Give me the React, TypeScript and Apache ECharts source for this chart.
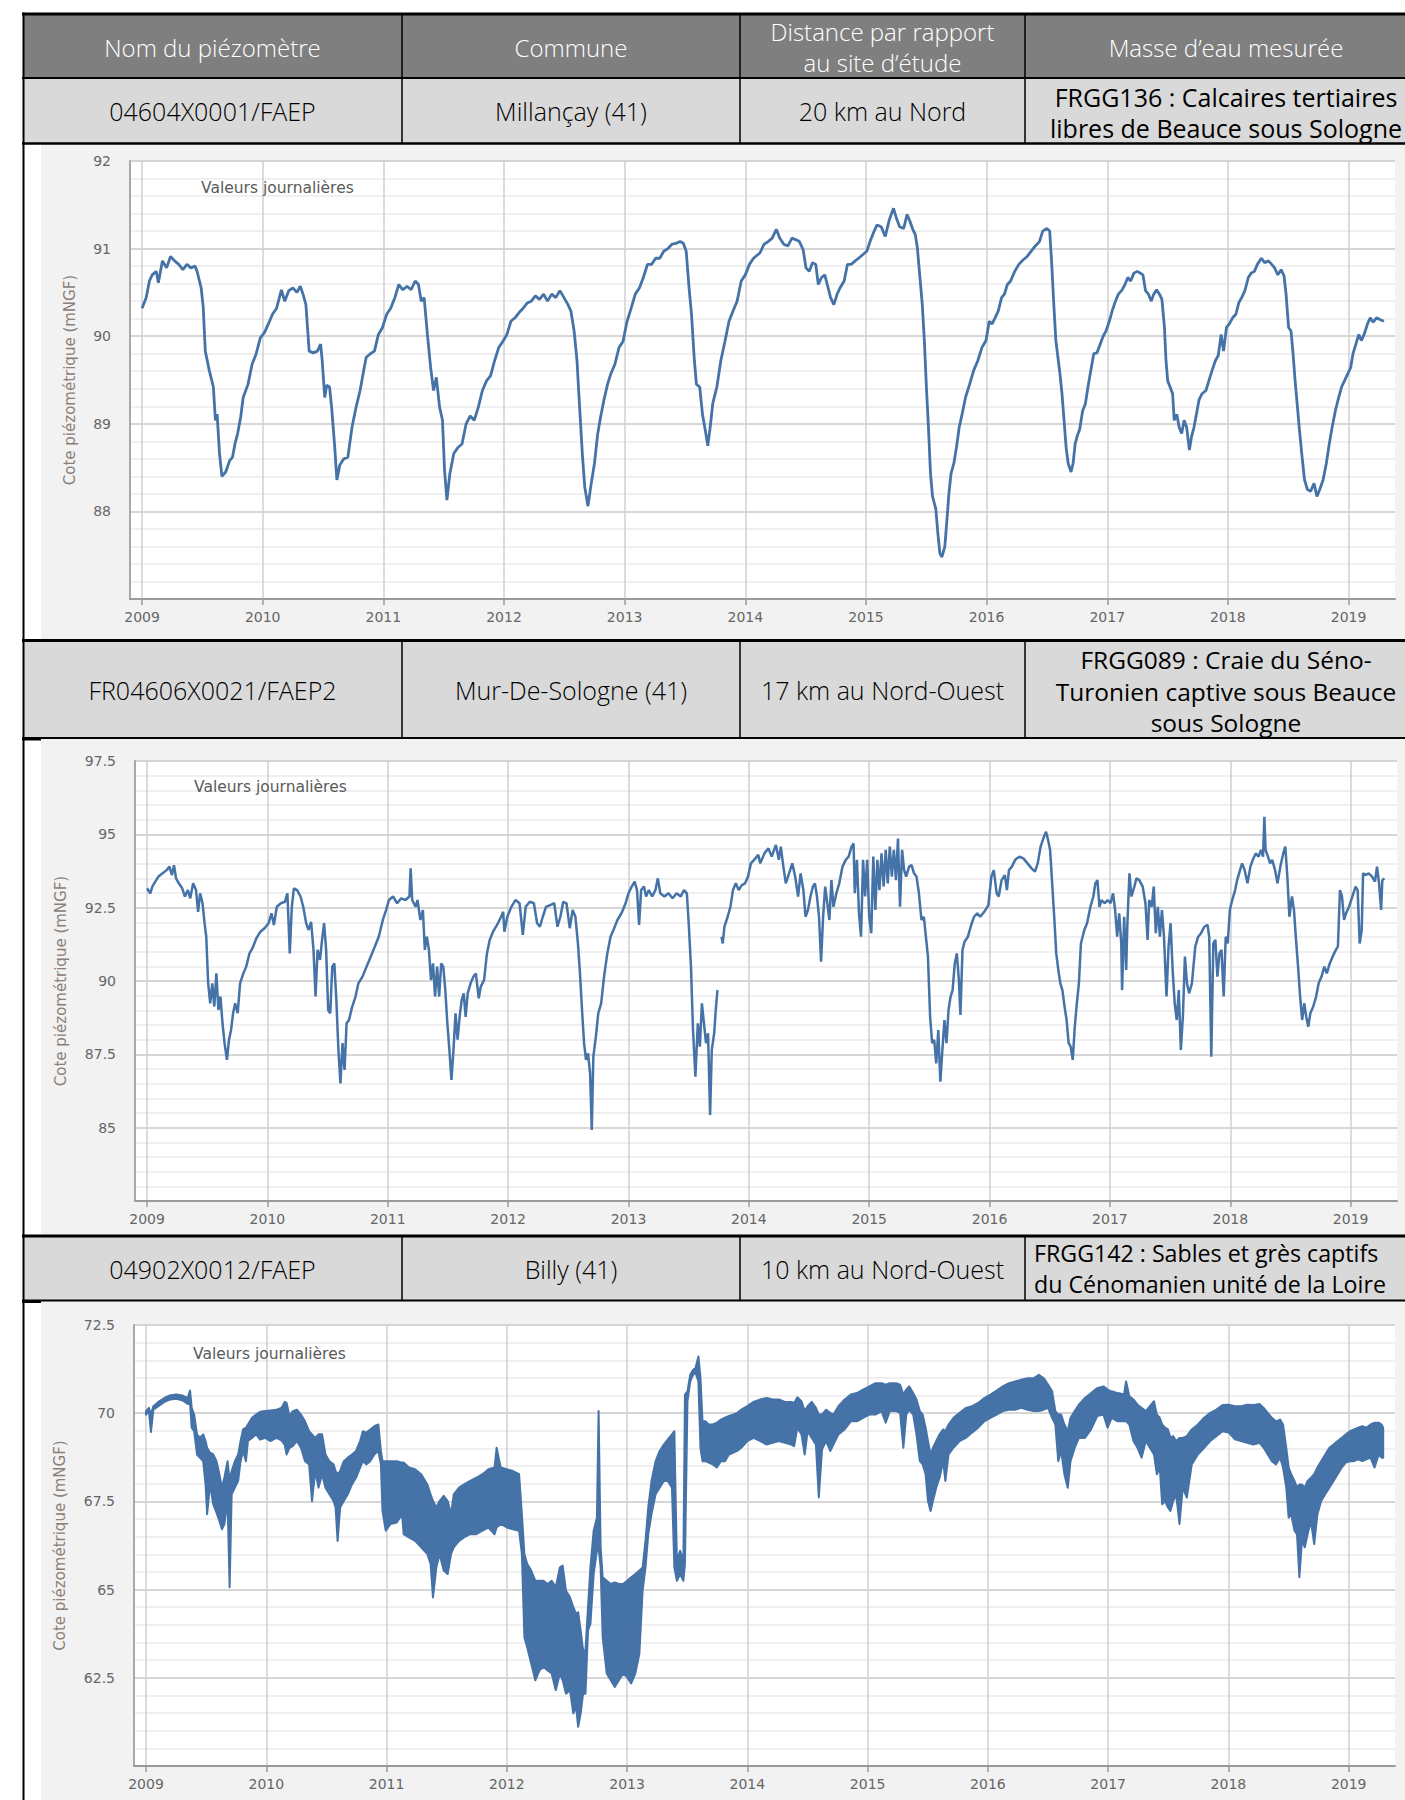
import React, { useEffect, useRef } from 'react';
import * as echarts from 'echarts';

// ---------- data ----------
const YEAR_TICKS = [2009, 2010, 2011, 2012, 2013, 2014, 2015, 2016, 2017, 2018, 2019];
const X_MIN = 2008.9;
const X_MAX = 2019.385;

const tableHeader = ['Nom du piézomètre', 'Commune', 'Distance par rapport|au site d’étude', 'Masse d’eau mesurée'];
const stationNames = ['04604X0001/FAEP', 'FR04606X0021/FAEP2', '04902X0012/FAEP'];
const stationCommunes = ['Millançay (41)', 'Mur-De-Sologne (41)', 'Billy (41)'];
const stationDistances = ['20 km au Nord', '17 km au Nord-Ouest', '10 km au Nord-Ouest'];
const stationAquifers = [
  ['FRGG136 : Calcaires tertiaires', 'libres de Beauce sous Sologne'],
  ['FRGG089 : Craie du Séno-', 'Turonien captive sous Beauce', 'sous Sologne'],
  ['FRGG142 : Sables et grès captifs', 'du Cénomanien unité de la Loire'],
];

// Millançay – [decimal year, level mNGF]
const millancay: [number, number][] = [
  [2009.000,90.32],[2009.034,90.44],[2009.061,90.63],[2009.084,90.70],[2009.118,90.74],[2009.135,90.61],[2009.169,90.86],[2009.203,90.78],[2009.236,90.91],[2009.270,90.86],[2009.304,90.82],[2009.338,90.76],[2009.372,90.82],[2009.405,90.78],[2009.439,90.80],[2009.456,90.74],[2009.490,90.55],[2009.507,90.33],[2009.524,89.83],[2009.557,89.61],[2009.591,89.42],[2009.608,89.04],[2009.622,89.11],[2009.642,88.66],[2009.662,88.40],[2009.693,88.45],[2009.726,88.58],[2009.750,88.62],[2009.770,88.77],[2009.794,88.90],[2009.818,89.08],[2009.838,89.30],[2009.878,89.45],[2009.912,89.68],[2009.946,89.80],[2009.980,89.98],
  [2010.014,90.04],[2010.047,90.14],[2010.081,90.25],[2010.115,90.32],[2010.155,90.53],[2010.182,90.40],[2010.216,90.52],[2010.250,90.55],[2010.284,90.50],[2010.311,90.57],[2010.334,90.48],[2010.358,90.36],[2010.385,89.83],[2010.419,89.81],[2010.453,89.83],[2010.480,89.91],[2010.493,89.72],[2010.514,89.30],[2010.530,89.44],[2010.554,89.42],[2010.571,89.19],[2010.595,88.77],[2010.615,88.36],[2010.639,88.53],[2010.672,88.60],[2010.706,88.62],[2010.740,88.96],[2010.774,89.19],[2010.807,89.38],[2010.841,89.64],[2010.858,89.76],[2010.892,89.80],[2010.926,89.83],[2010.959,90.02],[2010.993,90.10],
  [2011.027,90.25],[2011.061,90.32],[2011.095,90.44],[2011.128,90.59],[2011.162,90.53],[2011.196,90.57],[2011.230,90.53],[2011.264,90.63],[2011.291,90.59],[2011.314,90.40],[2011.338,90.44],[2011.365,90.02],[2011.392,89.64],[2011.416,89.38],[2011.439,89.53],[2011.466,89.19],[2011.490,89.04],[2011.507,88.47],[2011.527,88.13],[2011.551,88.43],[2011.584,88.66],[2011.618,88.73],[2011.652,88.77],[2011.686,89.00],[2011.720,89.09],[2011.753,89.04],[2011.787,89.19],[2011.821,89.38],[2011.855,89.49],[2011.889,89.55],[2011.922,89.72],[2011.956,89.87],[2011.990,89.94],
  [2012.024,90.02],[2012.057,90.17],[2012.091,90.21],[2012.125,90.27],[2012.159,90.32],[2012.193,90.38],[2012.226,90.40],[2012.260,90.46],[2012.294,90.42],[2012.328,90.48],[2012.361,90.40],[2012.395,90.48],[2012.429,90.44],[2012.463,90.52],[2012.497,90.44],[2012.530,90.36],[2012.554,90.29],[2012.581,90.06],[2012.605,89.72],[2012.625,89.23],[2012.649,88.66],[2012.669,88.28],[2012.696,88.06],[2012.723,88.32],[2012.750,88.55],[2012.777,88.89],[2012.801,89.08],[2012.828,89.27],[2012.858,89.45],[2012.885,89.57],[2012.919,89.68],[2012.953,89.87],[2012.986,89.94],
  [2013.020,90.17],[2013.054,90.32],[2013.088,90.48],[2013.122,90.55],[2013.155,90.67],[2013.189,90.82],[2013.223,90.82],[2013.257,90.89],[2013.291,90.89],[2013.324,90.97],[2013.358,91.00],[2013.392,91.05],[2013.426,91.06],[2013.459,91.08],[2013.486,91.06],[2013.510,90.97],[2013.534,90.55],[2013.554,90.25],[2013.578,89.72],[2013.595,89.45],[2013.622,89.42],[2013.645,89.11],[2013.669,88.92],[2013.689,88.75],[2013.709,88.96],[2013.730,89.23],[2013.764,89.42],[2013.797,89.72],[2013.831,89.94],[2013.865,90.17],[2013.899,90.29],[2013.932,90.40],[2013.966,90.63],
  [2014.000,90.70],[2014.034,90.82],[2014.068,90.89],[2014.121,90.95],[2014.155,91.05],[2014.189,91.08],[2014.223,91.12],[2014.257,91.22],[2014.285,91.12],[2014.319,91.05],[2014.353,91.03],[2014.387,91.12],[2014.421,91.10],[2014.448,91.08],[2014.479,90.99],[2014.503,90.78],[2014.530,90.74],[2014.557,90.84],[2014.584,90.82],[2014.605,90.59],[2014.632,90.67],[2014.659,90.70],[2014.683,90.57],[2014.707,90.44],[2014.734,90.36],[2014.761,90.48],[2014.785,90.55],[2014.819,90.63],[2014.847,90.82],[2014.877,90.82],[2014.911,90.86],[2014.939,90.89],[2014.973,90.93],
  [2015.007,90.97],[2015.034,91.08],[2015.068,91.20],[2015.092,91.27],[2015.126,91.25],[2015.160,91.14],[2015.194,91.33],[2015.228,91.46],[2015.252,91.35],[2015.279,91.25],[2015.313,91.23],[2015.341,91.39],[2015.365,91.31],[2015.388,91.22],[2015.409,91.16],[2015.426,91.01],[2015.443,90.74],[2015.467,90.36],[2015.484,89.95],[2015.501,89.42],[2015.518,88.96],[2015.535,88.43],[2015.552,88.17],[2015.579,88.03],[2015.596,87.75],[2015.613,87.52],[2015.630,87.48],[2015.654,87.60],[2015.671,87.90],[2015.688,88.21],[2015.705,88.43],[2015.729,88.55],[2015.750,88.73],[2015.773,88.96],[2015.797,89.11],[2015.825,89.30],[2015.859,89.45],[2015.893,89.61],[2015.927,89.72],[2015.961,89.87],[2015.995,89.95],
  [2016.022,90.17],[2016.046,90.14],[2016.070,90.21],[2016.097,90.29],[2016.124,90.44],[2016.148,90.48],[2016.172,90.59],[2016.199,90.63],[2016.233,90.74],[2016.267,90.82],[2016.302,90.87],[2016.336,90.91],[2016.370,90.97],[2016.404,91.03],[2016.438,91.08],[2016.465,91.20],[2016.499,91.23],[2016.523,91.20],[2016.540,90.82],[2016.557,90.36],[2016.574,89.95],[2016.591,89.76],[2016.608,89.57],[2016.625,89.34],[2016.642,89.04],[2016.659,88.73],[2016.676,88.55],[2016.700,88.45],[2016.717,88.55],[2016.734,88.77],[2016.751,88.86],[2016.772,88.94],[2016.796,89.15],[2016.819,89.23],[2016.840,89.42],[2016.864,89.61],[2016.888,89.80],[2016.915,89.81],[2016.942,89.91],[2016.966,90.00],[2016.990,90.06],
  [2017.017,90.17],[2017.041,90.29],[2017.068,90.40],[2017.092,90.48],[2017.119,90.52],[2017.147,90.59],[2017.170,90.67],[2017.194,90.63],[2017.221,90.72],[2017.249,90.74],[2017.273,90.72],[2017.296,90.70],[2017.317,90.52],[2017.341,90.48],[2017.365,90.40],[2017.385,90.48],[2017.409,90.53],[2017.433,90.48],[2017.453,90.42],[2017.474,90.10],[2017.487,89.72],[2017.501,89.49],[2017.521,89.42],[2017.542,89.34],[2017.555,89.04],[2017.576,89.11],[2017.596,88.96],[2017.617,88.89],[2017.637,89.04],[2017.658,88.96],[2017.681,88.70],[2017.698,88.85],[2017.719,88.96],[2017.739,89.11],[2017.760,89.27],[2017.784,89.34],[2017.818,89.38],[2017.842,89.49],[2017.869,89.61],[2017.896,89.72],[2017.920,89.78],[2017.944,90.02],[2017.964,89.83],[2017.988,90.10],
  [2018.012,90.14],[2018.039,90.21],[2018.066,90.25],[2018.090,90.38],[2018.114,90.44],[2018.141,90.52],[2018.169,90.67],[2018.193,90.72],[2018.220,90.74],[2018.244,90.82],[2018.278,90.89],[2018.305,90.84],[2018.336,90.86],[2018.363,90.82],[2018.387,90.78],[2018.414,90.70],[2018.441,90.76],[2018.465,90.69],[2018.482,90.48],[2018.503,90.10],[2018.523,90.06],[2018.540,89.80],[2018.557,89.49],[2018.574,89.23],[2018.591,88.96],[2018.612,88.66],[2018.635,88.36],[2018.659,88.25],[2018.686,88.23],[2018.714,88.32],[2018.738,88.17],[2018.761,88.25],[2018.789,88.36],[2018.816,88.55],[2018.840,88.77],[2018.864,88.96],[2018.891,89.15],[2018.918,89.30],[2018.942,89.42],[2018.966,89.49],[2018.993,89.57],
  [2019.017,89.64],[2019.037,89.80],[2019.061,89.91],[2019.085,90.02],[2019.106,89.95],[2019.129,90.02],[2019.157,90.14],[2019.180,90.21],[2019.204,90.16],[2019.232,90.21],[2019.259,90.19],[2019.293,90.17],
];

// Mur-De-Sologne – [decimal year, level mNGF]; null = gap in the record
const murDeSologne: [number, number | null][] = [
  [2009.000,93.16],[2009.027,92.99],[2009.044,93.22],[2009.068,93.39],[2009.095,93.56],[2009.129,93.67],[2009.163,93.78],[2009.186,93.90],[2009.207,93.61],[2009.224,93.95],[2009.241,93.50],[2009.264,93.33],[2009.292,93.16],[2009.315,92.88],[2009.339,93.10],[2009.359,92.82],[2009.383,93.33],[2009.407,93.10],[2009.424,92.36],[2009.441,92.99],[2009.461,92.65],[2009.478,91.97],[2009.492,91.51],[2009.508,89.92],[2009.525,89.24],[2009.542,89.92],[2009.559,89.13],[2009.576,90.26],[2009.593,89.01],[2009.610,89.47],[2009.627,88.56],[2009.644,87.88],[2009.664,87.31],[2009.681,88.00],[2009.698,88.33],[2009.715,88.90],[2009.732,89.24],[2009.753,88.90],[2009.773,89.92],[2009.800,90.26],[2009.824,90.49],[2009.851,90.94],[2009.875,91.11],[2009.908,91.45],[2009.942,91.68],[2009.976,91.80],
  [2010.010,91.97],[2010.034,92.31],[2010.054,91.91],[2010.078,92.53],[2010.112,92.65],[2010.146,92.70],[2010.166,92.99],[2010.186,90.94],[2010.203,92.53],[2010.220,93.16],[2010.247,93.10],[2010.275,92.88],[2010.298,92.53],[2010.322,91.97],[2010.342,91.74],[2010.363,92.02],[2010.383,91.06],[2010.400,89.47],[2010.417,91.06],[2010.437,90.72],[2010.454,91.40],[2010.471,91.97],[2010.488,91.06],[2010.505,89.01],[2010.522,88.90],[2010.539,90.49],[2010.556,90.60],[2010.573,89.35],[2010.590,87.65],[2010.607,86.51],[2010.624,87.88],[2010.641,86.97],[2010.658,88.56],[2010.678,88.67],[2010.705,89.13],[2010.732,89.47],[2010.756,89.92],[2010.790,90.15],[2010.824,90.49],[2010.858,90.83],[2010.892,91.17],[2010.925,91.51],[2010.959,92.08],[2010.986,92.42],
  [2011.010,92.76],[2011.044,92.88],[2011.078,92.65],[2011.112,92.82],[2011.146,92.76],[2011.180,92.88],[2011.190,93.84],[2011.203,92.76],[2011.231,92.53],[2011.247,92.76],[2011.271,92.08],[2011.292,92.42],[2011.308,91.06],[2011.325,91.51],[2011.342,91.06],[2011.359,90.03],[2011.376,90.60],[2011.393,89.47],[2011.410,90.49],[2011.427,89.47],[2011.444,90.60],[2011.461,90.49],[2011.478,89.69],[2011.495,88.56],[2011.512,87.65],[2011.529,86.63],[2011.546,87.65],[2011.563,88.90],[2011.580,88.00],[2011.597,88.78],[2011.614,89.35],[2011.631,89.58],[2011.647,88.78],[2011.664,89.58],[2011.688,89.92],[2011.712,90.15],[2011.732,90.26],[2011.756,89.41],[2011.773,89.81],[2011.800,90.03],[2011.824,90.94],[2011.847,91.40],[2011.875,91.68],[2011.908,91.91],[2011.942,92.19],[2011.959,92.36],[2011.969,91.68],[2011.993,92.19],
  [2012.027,92.53],[2012.061,92.76],[2012.095,92.65],[2012.122,91.57],[2012.146,92.53],[2012.180,92.70],[2012.214,92.65],[2012.241,91.97],[2012.264,91.85],[2012.288,92.19],[2012.315,92.53],[2012.349,92.59],[2012.383,92.65],[2012.410,91.85],[2012.434,92.19],[2012.458,92.70],[2012.485,92.65],[2012.512,91.80],[2012.536,92.42],[2012.559,92.19],[2012.580,91.28],[2012.597,90.26],[2012.614,89.01],[2012.631,87.88],[2012.647,87.31],[2012.664,87.53],[2012.681,86.85],[2012.695,84.92],[2012.708,87.42],[2012.729,88.10],[2012.749,88.90],[2012.773,89.24],[2012.797,90.15],[2012.824,90.94],[2012.851,91.51],[2012.875,91.74],[2012.908,92.08],[2012.942,92.31],[2012.976,92.65],
  [2013.000,92.99],[2013.027,93.22],[2013.051,93.39],[2013.071,93.10],[2013.088,91.91],[2013.105,93.10],[2013.129,93.22],[2013.146,92.88],[2013.169,93.10],[2013.197,92.88],[2013.224,93.10],[2013.244,93.50],[2013.264,92.99],[2013.298,92.88],[2013.332,92.99],[2013.366,92.82],[2013.400,92.99],[2013.434,92.88],[2013.461,93.10],[2013.485,92.99],[2013.502,91.85],[2013.519,90.49],[2013.536,88.33],[2013.556,86.74],[2013.576,88.56],[2013.593,87.76],[2013.610,89.24],[2013.627,88.56],[2013.644,87.88],[2013.661,88.22],[2013.678,85.43],[2013.692,87.65],[2013.712,88.22],[2013.725,89.01],[2013.739,89.69],[2013.756,null],[2013.773,91.51],[2013.783,91.28],[2013.797,91.85],[2013.824,92.19],[2013.847,92.53],[2013.868,93.10],[2013.892,93.33],[2013.915,93.10],[2013.942,93.27],[2013.969,93.33],[2013.993,93.56],
  [2014.017,94.01],[2014.044,94.13],[2014.078,94.30],[2014.095,94.01],[2014.129,94.35],[2014.163,94.52],[2014.190,94.24],[2014.225,94.64],[2014.249,94.13],[2014.266,94.58],[2014.283,94.01],[2014.307,93.33],[2014.334,93.67],[2014.361,94.01],[2014.385,93.56],[2014.409,92.88],[2014.430,93.67],[2014.453,93.10],[2014.471,92.19],[2014.491,92.42],[2014.512,92.88],[2014.532,93.22],[2014.549,93.33],[2014.566,92.88],[2014.583,92.19],[2014.600,90.66],[2014.617,92.19],[2014.634,93.22],[2014.652,92.65],[2014.669,92.08],[2014.686,93.44],[2014.703,92.53],[2014.727,92.99],[2014.751,93.33],[2014.778,93.90],[2014.805,94.13],[2014.829,94.24],[2014.853,94.58],[2014.870,94.69],[2014.880,92.99],[2014.898,94.13],[2014.915,92.31],[2014.932,91.51],[2014.949,94.13],[2014.966,92.88],[2014.983,94.13],
  [2015.000,92.19],[2015.017,91.63],[2015.034,94.24],[2015.051,92.42],[2015.068,94.13],[2015.085,93.10],[2015.102,94.35],[2015.120,93.22],[2015.137,94.47],[2015.154,93.33],[2015.171,94.58],[2015.188,93.56],[2015.205,94.47],[2015.222,93.44],[2015.239,94.86],[2015.256,92.53],[2015.273,94.47],[2015.290,93.78],[2015.307,93.56],[2015.331,93.90],[2015.352,93.95],[2015.372,93.67],[2015.393,93.56],[2015.413,92.99],[2015.434,92.08],[2015.454,92.19],[2015.471,91.51],[2015.488,90.83],[2015.506,88.78],[2015.523,87.88],[2015.540,87.99],[2015.557,87.19],[2015.574,88.33],[2015.591,86.57],[2015.608,87.65],[2015.625,88.67],[2015.642,87.88],[2015.659,89.01],[2015.676,89.47],[2015.693,89.69],[2015.711,90.60],[2015.728,90.94],[2015.745,90.03],[2015.758,88.84],[2015.775,91.06],[2015.792,91.34],[2015.820,91.51],[2015.847,91.91],[2015.871,92.19],[2015.898,92.31],[2015.922,92.19],[2015.956,92.36],[2015.990,92.59],
  [2016.015,93.56],[2016.035,93.78],[2016.059,92.99],[2016.076,92.88],[2016.100,93.44],[2016.127,93.61],[2016.144,93.10],[2016.161,93.78],[2016.185,93.90],[2016.213,94.13],[2016.247,94.24],[2016.281,94.18],[2016.315,94.01],[2016.349,93.84],[2016.377,93.73],[2016.400,94.01],[2016.424,94.58],[2016.452,94.92],[2016.469,95.09],[2016.486,94.81],[2016.503,94.47],[2016.520,93.33],[2016.537,92.19],[2016.554,90.94],[2016.571,90.38],[2016.588,89.92],[2016.605,89.69],[2016.623,89.13],[2016.640,88.67],[2016.657,87.88],[2016.674,87.76],[2016.691,87.31],[2016.708,88.44],[2016.725,89.24],[2016.742,89.92],[2016.759,91.28],[2016.787,91.74],[2016.810,91.97],[2016.838,92.53],[2016.862,92.88],[2016.879,93.33],[2016.896,93.44],[2016.913,92.53],[2016.930,92.76],[2016.957,92.65],[2016.981,92.76],
  [2017.005,92.65],[2017.026,92.99],[2017.043,92.42],[2017.060,91.51],[2017.077,92.31],[2017.094,91.28],[2017.101,89.69],[2017.118,92.19],[2017.135,90.38],[2017.145,91.97],[2017.162,93.67],[2017.179,92.88],[2017.203,93.22],[2017.220,93.50],[2017.244,93.44],[2017.272,93.22],[2017.295,92.65],[2017.313,91.40],[2017.326,92.76],[2017.347,92.53],[2017.364,93.22],[2017.381,91.63],[2017.398,92.53],[2017.415,91.51],[2017.432,92.42],[2017.449,91.51],[2017.470,89.47],[2017.487,91.17],[2017.504,91.97],[2017.521,90.38],[2017.538,89.24],[2017.555,88.67],[2017.572,89.69],[2017.589,87.65],[2017.606,88.78],[2017.623,90.83],[2017.640,89.92],[2017.658,89.58],[2017.681,89.92],[2017.709,91.17],[2017.733,91.51],[2017.757,91.63],[2017.784,91.85],[2017.811,91.91],[2017.825,91.51],[2017.842,87.42],[2017.859,91.28],[2017.876,91.40],[2017.893,90.15],[2017.910,90.94],[2017.927,91.06],[2017.945,89.47],[2017.962,91.51],[2017.979,91.28],[2017.996,92.42],
  [2018.016,92.76],[2018.040,93.10],[2018.057,93.44],[2018.081,93.78],[2018.098,94.01],[2018.119,93.78],[2018.143,93.33],[2018.167,93.90],[2018.187,94.13],[2018.211,94.35],[2018.235,94.24],[2018.255,94.47],[2018.272,94.24],[2018.283,95.60],[2018.293,94.47],[2018.313,94.24],[2018.331,94.01],[2018.348,94.13],[2018.372,93.78],[2018.392,93.33],[2018.416,93.90],[2018.440,94.35],[2018.457,94.58],[2018.474,93.56],[2018.491,92.19],[2018.512,92.88],[2018.529,92.42],[2018.546,91.40],[2018.563,90.49],[2018.580,89.47],[2018.597,88.67],[2018.614,89.24],[2018.631,88.78],[2018.648,88.44],[2018.665,88.90],[2018.689,89.13],[2018.713,89.47],[2018.734,89.92],[2018.758,90.15],[2018.781,90.49],[2018.802,90.26],[2018.826,90.60],[2018.850,90.83],[2018.877,91.06],[2018.894,91.17],[2018.911,93.10],[2018.928,92.88],[2018.945,92.08],[2018.962,92.31],[2018.986,92.53],
  [2019.014,92.88],[2019.041,93.22],[2019.058,93.10],[2019.075,91.28],[2019.092,91.74],[2019.103,93.67],[2019.123,93.61],[2019.150,93.67],[2019.178,93.56],[2019.202,93.39],[2019.219,93.90],[2019.236,93.33],[2019.253,92.42],[2019.263,93.44],[2019.280,93.50],
];

// Billy – daily values oscillate strongly: [decimal year, upper edge, lower edge] of the band they draw
const billy: [number, number, number][] = [
  [2009.000,70.06,69.96],[2009.024,70.15,70.06],[2009.041,69.96,69.47],[2009.061,70.20,70.10],[2009.102,70.32,70.20],[2009.153,70.43,70.32],[2009.203,70.51,70.39],[2009.254,70.53,70.41],[2009.305,70.50,70.36],[2009.346,70.43,70.26],[2009.366,70.64,70.26],[2009.380,70.15,69.59],[2009.400,69.96,69.49],[2009.424,69.40,68.83],[2009.447,69.30,68.74],[2009.475,69.40,68.64],[2009.495,69.21,67.98],[2009.508,69.02,67.14],[2009.532,68.88,67.99],[2009.559,68.83,67.42],[2009.586,68.64,67.18],[2009.610,68.27,66.95],[2009.631,67.89,66.71],[2009.651,68.17,66.85],[2009.678,68.64,67.51],[2009.695,68.08,65.07],[2009.712,68.36,67.70],[2009.739,68.64,67.89],[2009.766,68.83,68.08],[2009.786,69.21,68.64],[2009.807,69.54,68.93],[2009.831,69.59,68.64],[2009.847,69.68,69.21],[2009.881,69.87,69.30],[2009.915,69.96,69.40],[2009.949,70.04,69.25],[2009.993,70.06,69.30],
  [2010.034,70.08,69.21],[2010.085,70.10,69.30],[2010.125,70.15,69.23],[2010.153,70.32,69.11],[2010.169,70.29,68.83],[2010.193,69.92,69.02],[2010.220,70.06,69.07],[2010.254,70.10,69.21],[2010.288,69.96,69.02],[2010.322,69.77,68.64],[2010.356,69.49,68.55],[2010.380,69.40,67.51],[2010.407,69.30,68.36],[2010.434,69.40,67.89],[2010.464,69.40,68.27],[2010.492,68.83,67.89],[2010.525,68.64,67.70],[2010.559,68.55,67.51],[2010.576,68.36,67.33],[2010.593,68.27,66.38],[2010.614,68.36,67.33],[2010.644,68.64,67.51],[2010.678,68.74,67.70],[2010.712,68.83,67.98],[2010.746,68.93,68.17],[2010.780,69.21,68.46],[2010.803,69.49,68.64],[2010.831,69.45,68.55],[2010.864,69.54,68.64],[2010.898,69.63,68.83],[2010.932,69.68,68.93],[2010.953,68.93,68.55],[2010.966,68.64,67.23],[2010.993,68.64,66.67],
  [2011.034,68.64,66.86],[2011.085,68.64,66.90],[2011.129,68.60,67.14],[2011.142,68.60,66.57],[2011.186,68.46,66.48],[2011.237,68.41,66.38],[2011.288,68.27,66.20],[2011.339,67.98,66.01],[2011.366,67.70,65.73],[2011.386,67.51,64.78],[2011.414,67.33,65.63],[2011.441,67.51,66.01],[2011.475,67.66,65.54],[2011.508,67.51,65.44],[2011.536,67.14,66.01],[2011.559,67.70,66.20],[2011.603,67.89,66.38],[2011.644,67.98,66.48],[2011.695,68.08,66.57],[2011.746,68.17,66.57],[2011.797,68.27,66.67],[2011.847,68.41,66.76],[2011.898,68.46,66.57],[2011.915,69.02,66.76],[2011.949,68.46,66.86],
  [2012.000,68.41,66.76],[2012.051,68.36,66.71],[2012.102,68.27,66.67],[2012.125,67.14,66.01],[2012.146,66.01,63.65],[2012.169,65.73,63.37],[2012.203,65.54,62.90],[2012.237,65.25,62.43],[2012.271,65.25,62.71],[2012.305,65.25,62.81],[2012.339,65.16,62.71],[2012.373,65.25,62.62],[2012.407,65.07,62.15],[2012.441,65.63,62.62],[2012.464,65.68,62.43],[2012.492,64.97,62.05],[2012.525,64.78,62.15],[2012.553,64.50,61.49],[2012.576,64.31,61.68],[2012.593,64.36,61.11],[2012.614,63.84,61.49],[2012.634,63.28,62.05],[2012.654,63.28,62.05],[2012.675,64.50,63.84],[2012.695,65.63,64.03],[2012.722,66.67,65.44],[2012.749,67.04,66.10],[2012.763,70.06,66.20],[2012.780,66.20,65.63],[2012.797,65.35,63.65],[2012.831,65.25,62.62],[2012.864,65.16,62.43],[2012.898,65.20,62.24],[2012.932,65.16,62.43],[2012.966,65.16,62.62],
  [2013.000,65.25,62.52],[2013.034,65.35,62.34],[2013.068,65.44,62.62],[2013.102,65.54,63.18],[2013.129,65.63,64.97],[2013.153,66.38,65.63],[2013.176,67.33,66.57],[2013.203,68.08,67.14],[2013.237,68.64,67.70],[2013.271,68.93,67.89],[2013.305,69.11,68.08],[2013.339,69.26,68.08],[2013.373,69.40,67.89],[2013.393,69.49,65.63],[2013.414,65.82,65.25],[2013.441,66.10,65.44],[2013.468,65.82,65.25],[2013.481,70.53,65.73],[2013.502,70.62,70.34],[2013.525,71.09,70.90],[2013.549,71.23,71.09],[2013.569,71.28,71.14],[2013.593,71.61,70.90],[2013.610,71.00,69.02],[2013.627,69.77,68.64],[2013.651,69.77,68.64],[2013.678,69.68,68.60],[2013.712,69.68,68.55],[2013.746,69.73,68.46],[2013.780,69.82,68.64],[2013.814,69.87,68.64],[2013.847,69.92,68.83],[2013.881,69.96,68.88],[2013.915,70.01,68.93],[2013.949,70.10,69.02],
  [2014.000,70.20,69.21],[2014.051,70.32,69.30],[2014.108,70.39,69.21],[2014.160,70.43,69.11],[2014.211,70.39,69.16],[2014.262,70.39,69.21],[2014.313,70.32,69.16],[2014.365,70.32,69.11],[2014.389,70.29,69.07],[2014.416,70.45,69.59],[2014.450,70.34,69.40],[2014.477,70.06,68.83],[2014.501,70.20,69.49],[2014.535,70.32,69.30],[2014.570,70.15,69.11],[2014.594,69.96,67.61],[2014.621,69.96,68.98],[2014.655,70.10,69.21],[2014.689,70.01,68.93],[2014.716,69.96,69.11],[2014.757,70.20,69.40],[2014.809,70.39,69.54],[2014.860,70.53,69.77],[2014.911,70.57,69.77],[2014.962,70.67,69.87],
  [2015.014,70.76,69.96],[2015.065,70.85,69.96],[2015.116,70.85,70.06],[2015.150,70.81,69.73],[2015.184,70.85,70.06],[2015.236,70.85,70.06],[2015.270,70.81,70.01],[2015.297,70.53,69.02],[2015.321,70.67,69.96],[2015.345,70.76,70.10],[2015.379,70.57,69.96],[2015.406,70.39,69.40],[2015.434,70.06,68.64],[2015.458,69.96,68.55],[2015.482,69.59,68.27],[2015.502,69.21,67.51],[2015.523,68.83,67.23],[2015.543,69.02,67.51],[2015.570,69.21,67.89],[2015.598,69.40,68.17],[2015.629,69.54,68.64],[2015.646,69.49,68.08],[2015.673,69.68,68.83],[2015.714,69.87,69.02],[2015.765,70.01,69.21],[2015.816,70.15,69.30],[2015.868,70.20,69.45],[2015.919,70.29,69.59],[2015.970,70.43,69.77],
  [2016.021,70.53,69.87],[2016.073,70.64,69.96],[2016.124,70.76,70.06],[2016.175,70.85,70.10],[2016.226,70.90,70.10],[2016.278,70.95,70.15],[2016.329,70.99,70.10],[2016.380,70.99,70.06],[2016.424,71.09,70.06],[2016.465,70.99,70.10],[2016.500,70.81,70.15],[2016.534,70.62,69.87],[2016.561,70.06,69.68],[2016.585,69.96,68.64],[2016.609,69.96,68.93],[2016.636,69.68,68.27],[2016.664,69.49,67.89],[2016.687,69.87,68.64],[2016.722,70.06,69.02],[2016.756,70.24,69.30],[2016.807,70.43,69.30],[2016.858,70.57,69.54],[2016.909,70.71,69.92],[2016.961,70.76,69.96],[2016.995,70.67,69.59],
  [2017.029,70.62,69.87],[2017.080,70.57,69.77],[2017.132,70.53,69.77],[2017.149,70.90,69.77],[2017.176,70.48,69.68],[2017.210,70.39,69.21],[2017.244,70.24,69.02],[2017.278,70.15,68.74],[2017.313,70.06,69.21],[2017.347,70.20,69.02],[2017.381,70.34,68.83],[2017.405,69.96,68.27],[2017.429,69.87,68.46],[2017.449,69.68,67.42],[2017.473,69.59,67.51],[2017.497,69.54,67.33],[2017.518,69.30,67.23],[2017.541,69.35,67.51],[2017.565,69.21,67.70],[2017.593,69.30,66.86],[2017.620,69.30,67.89],[2017.654,69.35,67.61],[2017.695,69.54,68.55],[2017.746,69.68,68.83],[2017.798,69.87,69.02],[2017.849,70.01,69.21],[2017.900,70.10,69.35],[2017.951,70.23,69.49],
  [2018.003,70.24,69.45],[2018.054,70.20,69.26],[2018.105,70.20,69.21],[2018.156,70.24,69.16],[2018.208,70.23,69.11],[2018.259,70.26,69.16],[2018.293,70.15,69.02],[2018.327,70.01,68.83],[2018.361,69.87,68.64],[2018.395,69.77,68.55],[2018.430,69.82,68.74],[2018.454,69.68,68.46],[2018.481,69.02,67.89],[2018.501,68.46,67.04],[2018.522,68.27,67.14],[2018.549,68.08,66.67],[2018.570,67.89,66.57],[2018.590,67.98,65.35],[2018.611,67.98,66.38],[2018.635,67.89,66.20],[2018.658,68.08,66.57],[2018.686,68.17,66.95],[2018.713,68.27,66.29],[2018.740,68.46,67.14],[2018.771,68.64,67.51],[2018.805,68.83,67.70],[2018.839,69.02,67.89],[2018.874,69.11,68.08],[2018.908,69.21,68.27],[2018.942,69.30,68.46],[2018.976,69.40,68.60],
  [2019.010,69.49,68.64],[2019.044,69.54,68.64],[2019.079,69.59,68.69],[2019.113,69.63,68.64],[2019.147,69.59,68.69],[2019.181,69.68,68.74],[2019.215,69.73,68.46],[2019.249,69.73,68.83],[2019.273,69.68,68.74],[2019.287,69.59,68.74],
];

const Y_RANGES = [
  { min: 87, max: 92, interval: 1 },
  { min: 82.5, max: 97.5, interval: 2.5 },
  { min: 60, max: 72.5, interval: 2.5 },
];

// ---------- styles / layout ----------
const BLUE = '#4572A7';
const CHART_FONT = '"DejaVu Sans", sans-serif';
const TABLE_FONT = '"Open Sans", sans-serif';
const GRIDS = [
  { left: 130, top: 161, width: 1265, height: 438 },
  { left: 135, top: 761, width: 1262, height: 440 },
  { left: 134, top: 1325, width: 1261, height: 441 },
];

function txt(x: number, y: number, text: string, o: any = {}) {
  const align = o.align || 'center';
  return {
    type: 'text', x, y, z: 30, silent: true, rotation: o.rotation || 0,
    style: {
      text, fill: o.fill || '#000', fontSize: o.size || 25, fontFamily: o.family || TABLE_FONT,
      fontWeight: o.weight || 300, textAlign: align, align, textVerticalAlign: 'middle', verticalAlign: 'middle',
    },
  };
}
function hline(y: number, w: number, x1 = 22, x2 = 1405) {
  return { type: 'line', z: 25, silent: true, shape: { x1, y1: y, x2, y2: y }, style: { stroke: '#000', lineWidth: w } };
}
function vline(x: number, y1: number, y2: number, w: number) {
  return { type: 'line', z: 25, silent: true, shape: { x1: x, y1, x2: x, y2 }, style: { stroke: '#000', lineWidth: w } };
}
function rect(x: number, y: number, w: number, h: number, fill: string, z = -1) {
  return { type: 'rect', z, silent: true, shape: { x, y, width: w, height: h }, style: { fill } };
}

function buildGraphics() {
  const g: any[] = [];
  // chart panels
  g.push(rect(41, 143.5, 1364, 497, '#f2f2f2'));
  g.push(rect(41, 738, 1364, 498, '#f2f2f2'));
  g.push(rect(41, 1300.5, 1364, 500, '#f2f2f2'));
  // table rows
  g.push(rect(23, 14, 1400, 64, '#7f7f7f', 20));
  const rowBands = [[78, 143.5], [640.5, 738], [1236, 1300.5]];
  rowBands.forEach(([a, b]) => g.push(rect(23, a, 1400, b - a, '#d9d9d9', 20)));
  // borders
  [[14, 3], [78, 2], [143.5, 2.5], [640.5, 3], [738, 2], [1236, 3], [1300.5, 2]].forEach(([y, w]) => g.push(hline(y, w)));
  g.push(hline(739, 3, 22, 41));
  g.push(hline(1301.5, 3, 22, 41));
  g.push(vline(23.5, 12.5, 1800, 2));
  [402, 740, 1025].forEach((x) => {
    g.push(vline(x, 14, 143.5, 1.5));
    g.push(vline(x, 640.5, 738, 1.5));
    g.push(vline(x, 1236, 1300.5, 1.5));
  });
  // header texts
  const colX = [212.5, 571, 882.5, 1226];
  const head = { fill: '#fff', size: 24 };
  g.push(txt(colX[0], 47, tableHeader[0], head));
  g.push(txt(colX[1], 47, tableHeader[1], head));
  const dist = tableHeader[2].split('|');
  g.push(txt(colX[2], 31, dist[0], head));
  g.push(txt(colX[2], 62, dist[1], head));
  g.push(txt(colX[3], 47, tableHeader[3], head));
  // station rows
  const rowY = [111, 690, 1268.5];
  const aquiferY = [[96.5, 128], [659, 691, 722], [1253, 1284]];
  for (let i = 0; i < 3; i++) {
    g.push(txt(colX[0], rowY[i], stationNames[i]));
    g.push(txt(colX[1], rowY[i], stationCommunes[i]));
    g.push(txt(colX[2], rowY[i], stationDistances[i]));
    stationAquifers[i].forEach((line, j) => {
      if (i === 2) g.push(txt(1034, aquiferY[i][j], line, { align: 'left', weight: 500, size: 23.2 }));
      else g.push(txt(colX[3], aquiferY[i][j], line, { weight: 500, size: i === 1 ? 24.5 : 25 }));
    });
  }
  // chart annotations
  const titleX = [70, 61, 60];
  const labelPos = [[201, 188], [194, 787], [193, 1354]];
  GRIDS.forEach((gr, i) => {
    g.push(txt(titleX[i], gr.top + gr.height / 2, 'Cote piézométrique (mNGF)', {
      rotation: Math.PI / 2, fill: '#8a8078', size: 15, family: CHART_FONT, weight: 'normal',
    }));
    g.push(txt(labelPos[i][0], labelPos[i][1], 'Valeurs journalières', {
      align: 'left', fill: '#5a5a5a', size: 15.5, family: CHART_FONT, weight: 'normal',
    }));
  });
  return g;
}

function buildOption() {
  const grid = GRIDS.map((g) => ({ ...g, show: true, backgroundColor: '#ffffff', borderWidth: 0, containLabel: false }));
  const xAxis = GRIDS.map((_, i) => ({
    type: 'value', gridIndex: i, min: X_MIN, max: X_MAX,
    axisLine: { show: true, lineStyle: { color: '#9a9a9a', width: 2 } },
    axisTick: { show: true, customValues: YEAR_TICKS, length: 6, lineStyle: { color: '#9a9a9a', width: 1.5 } },
    axisLabel: {
      show: true, customValues: YEAR_TICKS, color: '#666', fontSize: 14, fontFamily: CHART_FONT, margin: 11,
      formatter: (v: number) => String(Math.round(v)),
    },
    splitLine: { show: true, lineStyle: { color: '#d0d0d0', width: 1.5 } },
  }));
  const yAxis = Y_RANGES.map((r, i) => ({
    type: 'value', gridIndex: i, min: r.min, max: r.max, interval: r.interval,
    axisLine: { show: true, lineStyle: { color: '#a8a8a8', width: 2 } },
    axisTick: { show: false },
    axisLabel: {
      color: '#666', fontSize: 14, fontFamily: CHART_FONT, margin: 19, showMinLabel: false,
      formatter: (v: number) => String(v),
    },
    splitLine: { show: true, lineStyle: { color: '#c8c8c8', width: 1.5 } },
    minorTick: { show: false, splitNumber: 5 },
    minorSplitLine: { show: true, lineStyle: { color: '#ebebeb', width: 1.5 } },
  }));
  const series: any[] = [
    {
      type: 'line', xAxisIndex: 0, yAxisIndex: 0, data: millancay, symbol: 'none', showSymbol: false,
      lineStyle: { color: BLUE, width: 2.8 }, itemStyle: { color: BLUE }, silent: true, z: 3,
    },
    {
      type: 'line', xAxisIndex: 1, yAxisIndex: 1, data: murDeSologne, symbol: 'none', showSymbol: false,
      connectNulls: false, lineStyle: { color: BLUE, width: 2.5 }, itemStyle: { color: BLUE }, silent: true, z: 3,
    },
    {
      type: 'custom', xAxisIndex: 2, yAxisIndex: 2, coordinateSystem: 'cartesian2d', silent: true, z: 3,
      data: [[2014, 66]],
      renderItem: (_params: any, api: any) => {
        const top = billy.map((d) => api.coord([d[0], d[1]]));
        const bottom = billy.slice().reverse().map((d) => api.coord([d[0], d[2]]));
        return {
          type: 'polygon',
          shape: { points: top.concat(bottom) },
          style: { fill: BLUE, stroke: BLUE, lineWidth: 2, lineJoin: 'round' },
        };
      },
    },
  ];
  return {
    animation: false,
    backgroundColor: '#ffffff',
    grid, xAxis, yAxis, series,
    graphic: { elements: buildGraphics() },
  };
}

export default function App() {
  const ref = useRef<HTMLDivElement>(null);
  useEffect(() => {
    if (!ref.current) return;
    const chart = echarts.init(ref.current, null, { renderer: 'svg' });
    chart.setOption(buildOption() as any);
    return () => chart.dispose();
  }, []);
  return (
    <div
      ref={ref}
      style={{ position: 'absolute', left: 0, top: 0, width: 1405, height: 1800 }}
    />
  );
}
